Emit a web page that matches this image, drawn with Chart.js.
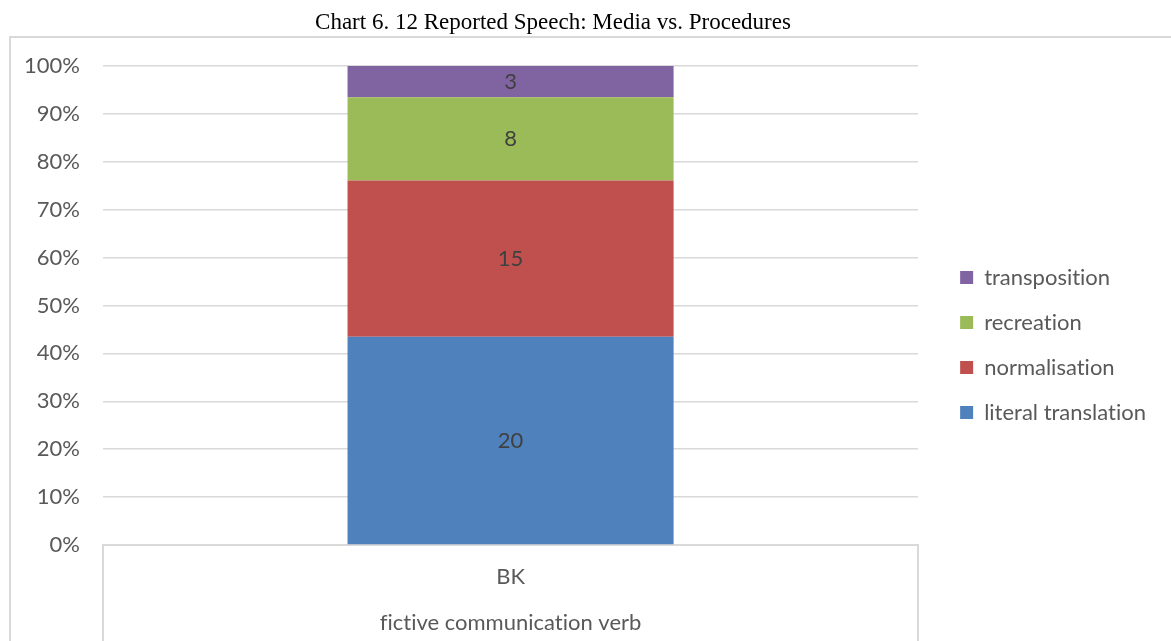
<!DOCTYPE html>
<html>
<head>
<meta charset="utf-8">
<title>Chart 6. 12 Reported Speech: Media vs. Procedures</title>
<script src="https://cdn.jsdelivr.net/npm/chart.js@4.4.1/dist/chart.umd.min.js"></script>
<style>
  html, body { margin: 0; padding: 0; background: #ffffff; }
  #wrap { width: 1171px; height: 641px; position: relative; }
</style>
</head>
<body>
<div id="wrap"><canvas id="chart"></canvas></div>
<script>
// Categories and grouping label on the x axis
const categories = ['BK'];
const groupLabel = 'fictive communication verb';

// Counts per procedure (stacked to 100%)
const seriesNames = ['literal translation', 'normalisation', 'recreation', 'transposition'];
const literalTranslation = [20];
const normalisation = [15];
const recreation = [8];
const transposition = [3];
const seriesColors = ['#4f81bd', '#c0504d', '#9bbb59', '#8064a2'];

const seriesCounts = [literalTranslation, normalisation, recreation, transposition];
const totals = categories.map((_, i) => seriesCounts.reduce((s, arr) => s + arr[i], 0));

const FONT = 'Lato, "Noto Sans", sans-serif';
const FONT_SIZE = 22;
const TEXT = '#595959';
const GRID = '#d9d9d9';

// Plain glyphs (no ligatures) for both measuring and drawing
const plainText = {
  id: 'plainText',
  beforeLayout(chart) {
    if ('textRendering' in chart.ctx) chart.ctx.textRendering = 'optimizeSpeed';
  },
  beforeDraw(chart) {
    if ('textRendering' in chart.ctx) chart.ctx.textRendering = 'optimizeSpeed';
  }
};

// Light outer frame around the plot
const framePlugin = {
  id: 'frame',
  beforeDraw(chart) {
    const ctx = chart.ctx;
    ctx.save();
    ctx.strokeStyle = GRID;
    ctx.lineWidth = 2;
    ctx.strokeRect(10, 37, 1400, 800);
    ctx.restore();
  }
};

// Count labels centred in each stacked segment
const countLabels = {
  id: 'countLabels',
  afterDatasetsDraw(chart) {
    const ctx = chart.ctx;
    ctx.save();
    ctx.font = FONT_SIZE + 'px ' + FONT;
    ctx.fillStyle = '#404040';
    ctx.textAlign = 'center';
    ctx.textBaseline = 'middle';
    chart.data.datasets.forEach((ds, di) => {
      const meta = chart.getDatasetMeta(di);
      meta.data.forEach((bar, i) => {
        const p = bar.getProps(['x', 'y', 'base'], true);
        ctx.fillText(String(ds.counts[i]), p.x, (p.y + p.base) / 2);
      });
    });
    ctx.restore();
  }
};

const datasets = seriesNames.map((name, k) => ({
  label: name,
  counts: seriesCounts[k],
  data: seriesCounts[k].map((v, i) => v / totals[i] * 100),
  backgroundColor: seriesColors[k],
  borderWidth: 0,
  barPercentage: 1.0,
  categoryPercentage: 0.4
}));

new Chart(document.getElementById('chart'), {
  type: 'bar',
  data: {
    labels: categories.map(c => [c, groupLabel]),
    datasets: datasets
  },
  plugins: [plainText, framePlugin, countLabels],
  options: {
    responsive: true,
    maintainAspectRatio: false,
    animation: false,
    layout: { padding: { left: -50, right: 15, top: 0, bottom: -49 } },
    plugins: {
      title: {
        display: true,
        text: 'Chart 6. 12 Reported Speech: Media vs. Procedures',
        color: '#000000',
        font: { family: '"Liberation Serif", "Times New Roman", serif', size: 23, weight: 'normal', lineHeight: 1.2 },
        padding: { top: 9, bottom: 29.4 }
      },
      legend: {
        position: 'right',
        reverse: true,
        labels: {
          color: TEXT,
          font: { family: FONT, size: FONT_SIZE },
          boxWidth: 13,
          boxHeight: 13,
          padding: 23
        }
      },
      tooltip: { enabled: false }
    },
    scales: {
      x: {
        stacked: true,
        offset: true,
        grid: {
          offset: true,
          drawOnChartArea: false,
          drawTicks: true,
          tickLength: 96,
          color: GRID,
          lineWidth: 2
        },
        border: { display: true, color: GRID, width: 2 },
        ticks: {
          color: TEXT,
          padding: -87,
          font: { family: FONT, size: FONT_SIZE, lineHeight: 46 / FONT_SIZE },
          maxRotation: 0
        },
        afterFit(scale) { scale.height = 145; }
      },
      y: {
        stacked: true,
        min: 0,
        max: 100,
        grid: { color: GRID, lineWidth: 1.5, drawTicks: false },
        border: { display: false },
        ticks: {
          stepSize: 10,
          color: TEXT,
          padding: 23,
          font: { family: FONT, size: FONT_SIZE },
          callback: v => v + '%'
        },
        afterFit(scale) { scale.width = 153; }
      },
      // hidden spacer between the plot and the legend
      gap: {
        type: 'linear',
        position: 'right',
        display: false,
        afterFit(scale) { scale.width = 19; }
      }
    }
  }
});
</script>
</body>
</html>
